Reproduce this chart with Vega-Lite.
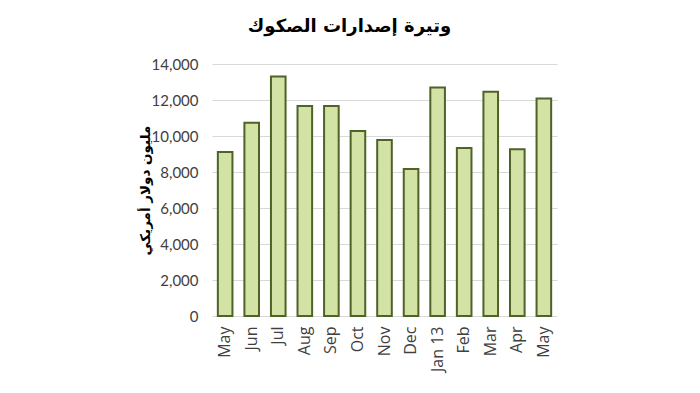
{
  "$schema": "https://vega.github.io/schema/vega-lite/v6.json",
  "width": 345,
  "height": 252,
  "autosize": "none",
  "padding": {"left": 212, "top": 64, "right": 143, "bottom": 77},
  "background": "white",
  "title": {
    "text": "وتيرة إصدارات الصكوك",
    "font": "DejaVu Sans",
    "fontSize": 18,
    "fontWeight": "bold",
    "color": "#000000",
    "anchor": "middle",
    "dx": -35,
    "offset": 21
  },
  "data": {
    "values": [
      {"month": "May", "value": 9110},
      {"month": "Jun", "value": 10740},
      {"month": "Jul", "value": 13300},
      {"month": "Aug", "value": 11660},
      {"month": "Sep", "value": 11660},
      {"month": "Oct", "value": 10280},
      {"month": "Nov", "value": 9780},
      {"month": "Dec", "value": 8170},
      {"month": "Jan 13", "value": 12700},
      {"month": "Feb", "value": 9330},
      {"month": "Mar", "value": 12460},
      {"month": "Apr", "value": 9260},
      {"month": "May ", "value": 12090}
    ]
  },
  "mark": {
    "type": "bar",
    "fill": "#d3e3a6",
    "stroke": "#4f6228",
    "strokeWidth": 2
  },
  "encoding": {
    "x": {
      "field": "month",
      "type": "nominal",
      "sort": null,
      "scale": {"paddingInner": 0.45, "paddingOuter": 0.22},
      "axis": {
        "title": null,
        "labelAngle": -90,
        "labelAlign": "right",
        "labelBaseline": "middle",
        "labelFont": "Open Sans",
        "labelFontSize": 16,
        "labelColor": "#404040",
        "labelPadding": 10,
        "ticks": false,
        "domain": false,
        "grid": false
      }
    },
    "y": {
      "field": "value",
      "type": "quantitative",
      "scale": {"domain": [0, 14000], "nice": false},
      "axis": {
        "values": [0, 2000, 4000, 6000, 8000, 10000, 12000, 14000],
        "format": ",d",
        "title": "مليون دولار أمريكي",
        "titleFont": "DejaVu Sans",
        "titleFontSize": 13.5,
        "titleFontWeight": "bold",
        "titleColor": "#000000",
        "titleX": -67,
        "titleY": 126,
        "titleAngle": -90,
        "titleAlign": "center",
        "titleBaseline": "middle",
        "labelFont": "Lato",
        "labelFontSize": 15,
        "labelColor": "#404040",
        "labelPadding": 14,
        "tickSize": 0,
        "ticks": false,
        "domain": false,
        "grid": true,
        "gridColor": "#d9d9d9",
        "gridWidth": 1
      }
    }
  },
  "config": {"view": {"stroke": null}}
}
